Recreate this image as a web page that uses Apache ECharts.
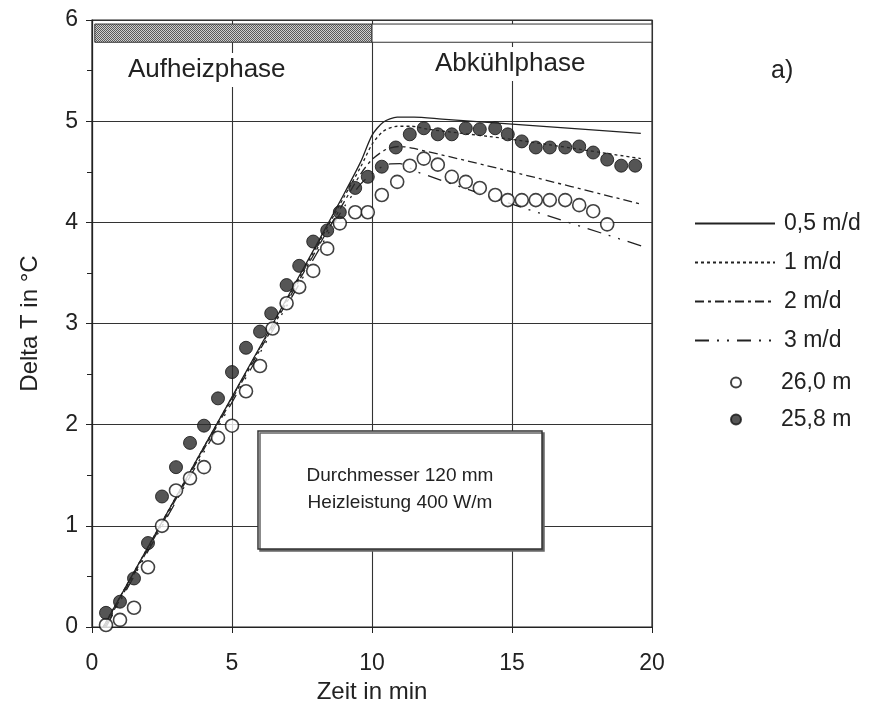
<!DOCTYPE html>
<html>
<head>
<meta charset="utf-8">
<script src="https://cdn.jsdelivr.net/npm/echarts@6/dist/echarts.min.js"></script>
<style>html,body{margin:0;padding:0;background:#fff;}#c{width:886px;height:724px;}</style>
</head>
<body>
<div id="c"></div>
<script>
// ---- data ----
const xTicks = [0, 5, 10, 15, 20];
const yTicks = [0, 1, 2, 3, 4, 5, 6];
const seriesNames = ['0,5 m/d', '1 m/d', '2 m/d', '3 m/d', '26,0 m', '25,8 m'];

// model curves
const t05 = [0.4, 2, 4, 6, 8, 9, 9.6, 10, 10.4, 10.9, 11.5, 12.5, 15, 19.6];
const v05 = [0, 0.79, 1.78, 2.77, 3.77, 4.28, 4.6, 4.86, 4.99, 5.04, 5.04, 5.02, 4.97, 4.88];
const t1 = [0.4, 2, 4, 6, 8, 9, 9.6, 10, 10.4, 10.9, 11.4, 12, 15, 19.6];
const v1 = [0, 0.79, 1.78, 2.76, 3.75, 4.25, 4.55, 4.77, 4.9, 4.95, 4.95, 4.92, 4.82, 4.63];
const t2 = [0.45, 2, 4, 6, 8, 9, 9.6, 10, 10.5, 11, 11.5, 15, 19.6];
const v2 = [0, 0.77, 1.76, 2.74, 3.72, 4.2, 4.48, 4.62, 4.72, 4.75, 4.73, 4.5, 4.18];
const t3 = [0.5, 2, 4, 6, 8, 9, 9.6, 10, 10.5, 11, 11.6, 15, 19.7];
const v3 = [0, 0.75, 1.73, 2.71, 3.68, 4.15, 4.38, 4.48, 4.57, 4.58, 4.5, 4.18, 3.76];

// measurements
const timeOpen = [0.5,1.0,1.5,2.0,2.5,3.0,3.5,4.0,4.5,5.0,5.5,6.0,6.45,6.95,7.4,7.9,8.4,8.85,9.4,9.85,10.35,10.9,11.35,11.85,12.35,12.85,13.35,13.85,14.4,14.85,15.35,15.85,16.35,16.9,17.4,17.9,18.4];
const valOpen = [0.02,0.07,0.19,0.59,1.0,1.35,1.47,1.58,1.87,1.99,2.33,2.58,2.95,3.2,3.36,3.52,3.74,3.99,4.10,4.10,4.27,4.40,4.56,4.63,4.57,4.45,4.40,4.34,4.27,4.22,4.22,4.22,4.22,4.22,4.17,4.11,3.98];
const timeFilled = [0.5,1.0,1.5,2.0,2.5,3.0,3.5,4.0,4.5,5.0,5.5,6.0,6.4,6.95,7.4,7.9,8.4,8.85,9.4,9.85,10.35,10.85,11.35,11.85,12.35,12.85,13.35,13.85,14.4,14.85,15.35,15.85,16.35,16.9,17.4,17.9,18.4,18.9,19.4];
const valFilled = [0.14,0.25,0.48,0.83,1.29,1.58,1.82,1.99,2.26,2.52,2.76,2.92,3.10,3.38,3.57,3.81,3.92,4.10,4.34,4.45,4.55,4.74,4.87,4.93,4.87,4.87,4.93,4.92,4.93,4.87,4.80,4.74,4.74,4.74,4.75,4.69,4.62,4.56,4.56];

// phase band
const heatPhase = [0.1, 10];
const coolPhase = [10, 20];
const bandY = [5.78, 5.96];

// ---- build ----
function zip(a, b) { return a.map((v, i) => [v, b[i]]); }

const pat = document.createElement('canvas');
pat.width = 2; pat.height = 2;
const pc = pat.getContext('2d');
pc.fillStyle = '#d0d0d0'; pc.fillRect(0, 0, 2, 2);
pc.fillStyle = '#5a5a5a'; pc.fillRect(0, 0, 1, 1); pc.fillRect(1, 1, 1, 1);

const FONT = 'Liberation Sans';
const INK = '#222';

const chart = echarts.init(document.getElementById('c'), null, { renderer: 'canvas' });

function lineSeries(name, t, v, dash) {
  return {
    name: name, type: 'line', data: zip(t, v), symbol: 'none', showSymbol: false, smooth: 0.25,
    color: INK,
    itemStyle: { color: INK },
    lineStyle: { color: INK, width: 1.3, type: dash }, z: 3, silent: true
  };
}

const s05 = lineSeries(seriesNames[0], t05, v05, 'solid');
s05.markArea = {
  silent: true,
  label: { show: false },
  data: [
    [{ coord: [heatPhase[0], bandY[0]], itemStyle: { color: { image: pat, repeat: 'repeat' }, borderColor: '#333', borderWidth: 1 } },
     { coord: [heatPhase[1], bandY[1]] }],
    [{ coord: [coolPhase[0], bandY[0]], itemStyle: { color: '#fff', borderColor: '#333', borderWidth: 1 } },
     { coord: [coolPhase[1], bandY[1]] }]
  ]
};

const option = {
  backgroundColor: '#fff',
  animation: false,
  textStyle: { fontFamily: FONT, color: INK },
  grid: { left: 92, right: 234, top: 20, bottom: 97, show: true, borderColor: '#222', borderWidth: 1.2 },
  xAxis: {
    type: 'value', min: 0, max: 20, interval: 5,
    name: 'Zeit in min', nameLocation: 'middle', nameGap: 53,
    nameTextStyle: { fontSize: 24, color: INK, fontFamily: FONT },
    axisLine: { show: true, lineStyle: { color: '#222', width: 1.2 } },
    axisTick: { show: true, length: 6, lineStyle: { color: '#222' } },
    axisLabel: { fontSize: 23, color: INK, margin: 25, fontFamily: FONT },
    splitLine: { show: true, lineStyle: { color: '#333', width: 1.1 } }
  },
  yAxis: {
    type: 'value', min: 0, max: 6, interval: 1,
    name: 'Delta T in °C', nameLocation: 'middle', nameGap: 50, nameRotate: 90,
    nameTextStyle: { fontSize: 24, color: INK, fontFamily: FONT },
    axisLine: { show: true, lineStyle: { color: '#222', width: 1.2 } },
    axisTick: { show: true, length: 6, lineStyle: { color: '#222' } },
    minorTick: { show: true, splitNumber: 2, length: 5, lineStyle: { color: '#222' } },
    axisLabel: { fontSize: 23, color: INK, margin: 14, fontFamily: FONT },
    splitLine: { show: true, lineStyle: { color: '#333', width: 1.1 } }
  },
  legend: [
    {
      data: seriesNames.slice(0, 4), orient: 'vertical', left: 689, top: 207,
      itemWidth: 80, itemHeight: 14, itemGap: 16,
      itemStyle: { color: 'rgba(0,0,0,0)', borderColor: 'rgba(0,0,0,0)', borderWidth: 0 },
      lineStyle: { color: INK },
      textStyle: { fontSize: 23, color: INK, fontFamily: FONT, lineHeight: 23, padding: [0, 0, 0, 4] },
      selectedMode: false
    },
    {
      data: seriesNames.slice(4), orient: 'vertical', left: 725, top: 366,
      itemWidth: 48, itemHeight: 10, itemGap: 14,
      textStyle: { fontSize: 23, color: INK, fontFamily: FONT, lineHeight: 23, padding: [0, 0, 0, 16] },
      selectedMode: false
    }
  ],
  series: [
    s05,
    lineSeries(seriesNames[1], t1, v1, [3, 3]),
    lineSeries(seriesNames[2], t2, v2, [9, 4, 3, 4]),
    lineSeries(seriesNames[3], t3, v3, [14, 8, 2, 8, 2, 8]),
    {
      name: seriesNames[4], type: 'scatter', data: zip(timeOpen, valOpen),
      symbol: 'circle', symbolSize: 13, z: 4, silent: true,
      itemStyle: { color: '#fff', borderColor: '#111', borderWidth: 1.6 }
    },
    {
      name: seriesNames[5], type: 'scatter', data: zip(timeFilled, valFilled),
      symbol: 'circle', symbolSize: 13, z: 5, silent: true,
      itemStyle: { color: '#2a2a2a', borderColor: '#111', borderWidth: 1 }
    }
  ],
  graphic: [
    { type: 'text', left: 125, top: 53, z: 100,
      style: { text: 'Aufheizphase', font: '26px "Liberation Sans"', fill: INK, backgroundColor: '#fff', padding: [4, 3] } },
    { type: 'text', left: 432, top: 47, z: 100,
      style: { text: 'Abkühlphase', font: '26px "Liberation Sans"', fill: INK, backgroundColor: '#fff', padding: [4, 3] } },
    { type: 'text', left: 771, top: 59, z: 100,
      style: { text: 'a)', font: '25px "Liberation Sans"', fill: INK } },
    { type: 'rect', shape: { x: 258, y: 431, width: 284, height: 118 }, z: 100,
      style: { fill: '#fff', stroke: '#333', lineWidth: 1.5, shadowColor: '#666', shadowOffsetX: 2, shadowOffsetY: 2, shadowBlur: 0 } },
    { type: 'text', x: 400, y: 476, z: 101,
      style: { text: 'Durchmesser 120 mm', font: '19px "Liberation Sans"', fill: INK, align: 'center', verticalAlign: 'middle' } },
    { type: 'text', x: 400, y: 503, z: 101,
      style: { text: 'Heizleistung 400 W/m', font: '19px "Liberation Sans"', fill: INK, align: 'center', verticalAlign: 'middle' } }
  ]
};
chart.setOption(option);
</script>
</body>
</html>
